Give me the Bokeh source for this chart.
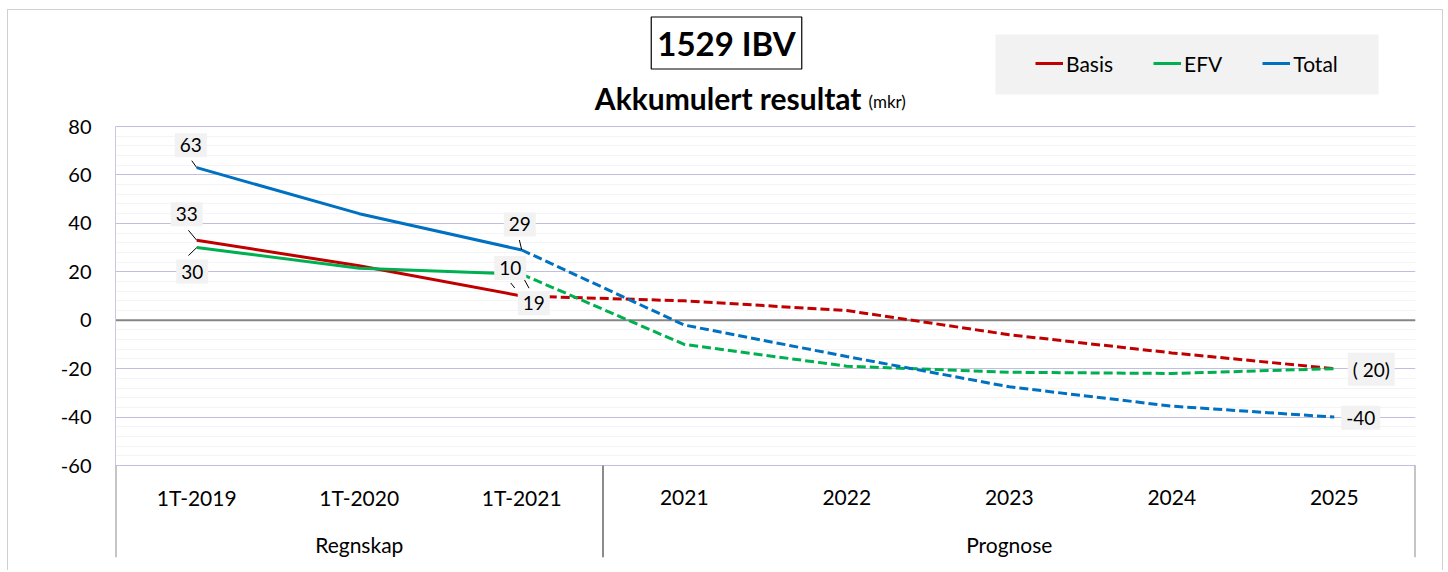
from bokeh.plotting import figure
from bokeh.models import (FactorRange, Range1d, FixedTicker, Span, Legend, LegendItem,
                          BoxAnnotation, ColumnDataSource, PrintfTickFormatter)
from bokeh.core.properties import value
from bokeh.embed import file_html
from bokeh.resources import INLINE

# ---------------- data ----------------
groups = ["Regnskap", "Regnskap", "Regnskap", "Prognose", "Prognose", "Prognose", "Prognose", "Prognose"]
categories = ["1T-2019", "1T-2020", "1T-2021", "2021", "2022", "2023", "2024", "2025"]
basis = [33, 22.5, 10, 8, 4, -6, -13.5, -20]
efv = [30, 21.5, 19, -10, -19, -21.5, -22, -20]
total = [63, 44, 29, -2, -15, -27.5, -35.5, -40]
y_ticks = [-60, -40, -20, 0, 20, 40, 60, 80]
series_names = ["Basis", "EFV", "Total"]
title_text = "1529 IBV"
subtitle_text = "Akkumulert resultat"
unit_text = "(mkr)"

# data labels: (series, category index, text)
label_series = ["Total", "Basis", "EFV", "Total", "Basis", "EFV", "Basis", "Total"]
label_index = [0, 0, 0, 2, 2, 2, 7, 7]
label_text = ["63", "33", "30", "29", "10", "19", "( 20)", "-40"]

# ---------------- layout / style ----------------
COL = {"Basis": "#c00000", "EFV": "#00b050", "Total": "#0070c0"}
FONT = "Lato"
W, H = 1446, 570
FRAME_L, FRAME_R = 115, 1415          # px of plot area
Y80_PX, YM60_PX = 126, 465            # px of 80 and -60
FRAME_T, FRAME_B = 0, 557             # px of frame top/bottom (frame extended over title + category area)
YPX = (YM60_PX - Y80_PX) / (y_ticks[-1] - y_ticks[0])
XPX = (FRAME_R - FRAME_L) / len(categories)

def xd(px):
    return (px - FRAME_L) / XPX

def yd(py):
    return y_ticks[-1] - (py - Y80_PX) / YPX

series = {"Basis": basis, "EFV": efv, "Total": total}
factors = list(zip(groups, categories))

x_range = FactorRange(*factors, factor_padding=0, group_padding=0, subgroup_padding=0, range_padding=0)
y_range = Range1d(yd(FRAME_B), yd(FRAME_T))

p = figure(width=W, height=H, x_range=x_range, y_range=y_range,
           output_backend="svg", toolbar_location=None, x_axis_location=None,
           min_border_left=FRAME_L, min_border_right=W - FRAME_R,
           min_border_top=FRAME_T, min_border_bottom=H - FRAME_B)
p.outline_line_color = None
p.background_fill_alpha = 0
p.border_fill_alpha = 0
bc = "#d0d0d0"
g = f"linear-gradient({bc},{bc})"
p.styles = {
    "background-color": "white",
    "background-image": f"{g}, {g}, {g}",
    "background-position": "7px 9px, 7px 9px, 1442px 9px",
    "background-size": "1px 100%, 1436px 1px, 1px 100%",
    "background-repeat": "no-repeat",
}

minor = [v for v in range(y_ticks[0], y_ticks[-1] + 1, 4) if v not in y_ticks]
p.yaxis.ticker = FixedTicker(ticks=y_ticks, minor_ticks=minor)
p.yaxis.formatter = PrintfTickFormatter(format="%d")
p.yaxis.major_label_overrides = {v: str(v) for v in y_ticks}
p.yaxis.bounds = (y_ticks[0], y_ticks[-1])
p.yaxis.axis_line_color = "#c8c8e2"
p.yaxis.major_tick_line_color = None
p.yaxis.minor_tick_line_color = None
p.yaxis.major_label_standoff = 18
p.yaxis.major_label_text_font = FONT
p.yaxis.major_label_text_font_size = "20px"
p.yaxis.major_label_text_color = "black"
for gr in p.xgrid:
    gr.visible = False
p.ygrid.grid_line_color = "#c0c0de"
p.ygrid.grid_line_width = 1
p.ygrid.minor_grid_line_color = "#f4f4f4"
p.ygrid.minor_grid_line_width = 1

p.add_layout(Span(location=0, dimension="width", line_color="#868686", line_width=2, level="underlay"))

# lines
legend_items = []
for name in series_names:
    vals = series[name]
    r = p.line(x=factors[:3], y=vals[:3], line_color=COL[name], line_width=3)
    p.line(x=factors[2:], y=vals[2:], line_color=COL[name], line_width=3, line_dash="9 4")
    legend_items.append(LegendItem(label=name, renderers=[r]))

# category axis area (inside extended frame)
n_reg = groups.count("Regnskap")
bounds = [0, n_reg, len(categories)]
p.segment(x0=bounds, y0=[y_ticks[0]] * 3, x1=bounds, y1=[yd(FRAME_B)] * 3,
          line_color="#8c8c8c", line_width=2)
p.text(x=factors, y=[yd(497)] * len(factors), text=categories, text_font=value(FONT),
       text_font_size="21px", text_align="center", text_baseline="middle", text_color="black")
ugroups = list(dict.fromkeys(groups))
p.text(x=ugroups, y=[yd(544)] * len(ugroups), text=ugroups, text_font=value(FONT),
       text_font_size="21px", text_align="center", text_baseline="middle", text_color="black")

# data labels with leader lines
dxy = [(-6, -22.5), (-10, -26), (-4.5, 24), (-2, -25.5), (-11.5, -28), (12, 29), (37, 0.5), (26.5, 0.7)]
leaders = [((-5, -7), (0, 0)), ((-8.3, -10), (0, 0)), ((-8.3, 8), (0, 0)), ((-2.4, -10), (0, 0)),
           ((-11, -13), (-7, -8)), ((0.7, 2), (7.3, 14)), None, None]
lx0, ly0, lx1, ly1 = [], [], [], []
for s, i, ld in zip(label_series, label_index, leaders):
    if ld is None:
        continue
    v = series[s][i]
    (a, b), (c, d) = ld
    lx0.append(i + 0.5 + a / XPX); ly0.append(v - b / YPX)
    lx1.append(i + 0.5 + c / XPX); ly1.append(v - d / YPX)
p.segment(x0=lx0, y0=ly0, x1=lx1, y1=ly1, line_color="black", line_width=1)

lab_src = ColumnDataSource(dict(
    x=[factors[i] for i in label_index],
    y=[series[s][i] for s, i in zip(label_series, label_index)],
    text=label_text,
    xo=[d[0] for d in dxy], yo=[d[1] for d in dxy]))
p.text(x="x", y="y", text="text", source=lab_src, x_offset="xo", y_offset="yo",
       text_font=value(FONT), text_font_size="19px", text_align="center", text_baseline="middle",
       text_color="black", background_fill_color="#f2f2f2", padding=5)

# titles
p.text(x=[xd(726)], y=[yd(42.5)], text=[title_text], text_font=value(FONT), text_font_size="33px",
       text_font_style="bold", text_align="center", text_baseline="middle", text_color="black",
       border_line_color="black", border_line_width=1.2, padding=6)
p.text(x=[xd(861)], y=[yd(97)], text=[subtitle_text], text_font=value(FONT), text_font_size="30px",
       text_font_style="bold", text_align="right", text_baseline="middle", text_color="black")
p.text(x=[xd(868)], y=[yd(101)], text=[unit_text], text_font=value(FONT), text_font_size="17px",
       text_align="left", text_baseline="middle", text_color="black")

# legend
p.add_layout(BoxAnnotation(left=xd(995), right=xd(1378), top=yd(34), bottom=yd(94),
                           fill_color="#f2f2f2", fill_alpha=1, line_color=None))
legend = Legend(items=legend_items, orientation="horizontal", location=(1035 - FRAME_L, FRAME_B - 76),
                padding=0, margin=0, spacing=40, glyph_width=28, glyph_height=26, label_height=26,
                label_standoff=3, label_text_font=FONT, label_text_font_size="21px",
                label_text_color="black", background_fill_alpha=0, border_line_color=None)
p.add_layout(legend)

open("out.html", "w").write(file_html(p, INLINE))
